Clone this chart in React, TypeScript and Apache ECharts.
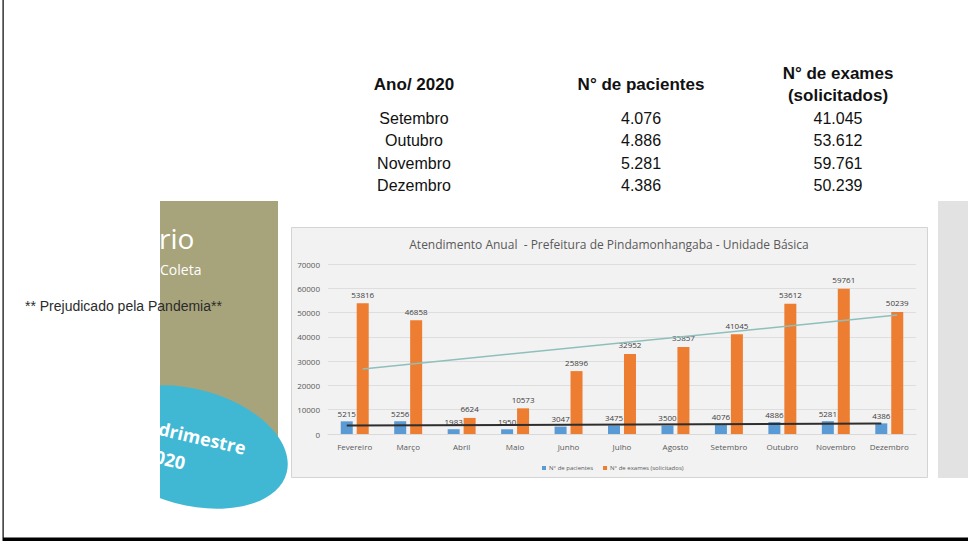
import React, { useEffect, useRef } from "react";
import * as echarts from "echarts";

const months = ["Fevereiro", "Março", "Abril", "Maio", "Junho", "Julho", "Agosto", "Setembro", "Outubro", "Novembro", "Dezembro"];
const patients = [5215, 5256, 1983, 1950, 3047, 3475, 3500, 4076, 4886, 5281, 4386];
const exams = [53816, 46858, 6624, 10573, 25896, 32952, 35857, 41045, 53612, 59761, 50239];
const patientTrend = [3500, 4300];
const examTrend = [26800, 49000];
const tableMonths = ["Setembro", "Outubro", "Novembro", "Dezembro"];
const seriesNames = ["N° de pacientes", "N° de exames (solicitados)"];
const chartTitle = "Atendimento Anual  - Prefeitura de Pindamonhangaba - Unidade Básica";

const fmt = (n: number) => String(n).replace(/\B(?=(\d{3})+(?!\d))/g, ".");

const ARIAL = "'Liberation Sans', Arial, sans-serif";
const SANS = "'Open Sans', sans-serif";

export default function App() {
  const ref = useRef<HTMLDivElement>(null);
  useEffect(() => {
    if (!ref.current) return;
    const chart = echarts.init(ref.current, null, { renderer: "svg" });

    const colX = [414, 641, 838];
    const rowY = [118, 140.5, 163, 185.5];
    const tableTexts: any[] = [];
    tableMonths.forEach((m, i) => {
      const idx = months.indexOf(m);
      const vals = [m, fmt(patients[idx]), fmt(exams[idx])];
      vals.forEach((v, j) => {
        tableTexts.push({
          type: "text", x: colX[j], y: rowY[i],
          style: { text: v, align: "center", verticalAlign: "middle", font: `16px ${ARIAL}`, fill: "#111" },
        });
      });
    });
    const headers = [
      { t: "Ano/ 2020", x: colX[0], y: 84 },
      { t: "N° de pacientes", x: colX[1], y: 84 },
      { t: "N° de exames", x: colX[2], y: 73 },
      { t: "(solicitados)", x: colX[2], y: 95 },
    ];
    headers.forEach((h) => {
      tableTexts.push({
        type: "text", x: h.x, y: h.y,
        style: { text: h.t, align: "center", verticalAlign: "middle", font: `bold 17px ${ARIAL}`, fill: "#111" },
      });
    });

    const rot = -13 * Math.PI / 180;

    chart.setOption({
      animation: false,
      backgroundColor: "#ffffff",
      graphic: [
        // chart box
        { type: "rect", z: -10, shape: { x: 291.5, y: 227.5, width: 636, height: 250 }, style: { fill: "#F2F2F2", stroke: "#D4D4D4", lineWidth: 1 } },
        // right gray panel
        { type: "rect", z: -10, shape: { x: 938, y: 201, width: 30, height: 277 }, style: { fill: "#E2E2E2" } },
        // olive panel
        { type: "rect", z: -10, shape: { x: 160, y: 201, width: 118, height: 255 }, style: { fill: "#A7A37B" } },
        // cyan ellipse
        { type: "ellipse", z: -9, x: 190, y: 447, rotation: -15 * Math.PI / 180, shape: { cx: 0, cy: 0, rx: 100, ry: 58 }, style: { fill: "#41B8D3" } },
        { type: "text", z: -8, x: 159, y: 238, style: { text: "rio", align: "left", verticalAlign: "middle", font: `28px ${SANS}`, fill: "#ffffff" } },
        { type: "text", z: -8, x: 160, y: 269, style: { text: "Coleta", align: "left", verticalAlign: "middle", font: `14px ${SANS}`, fill: "#ffffff" } },
        { type: "text", z: -8, x: 159, y: 428, rotation: rot, style: { text: "drimestre", align: "left", verticalAlign: "middle", font: `bold 18px ${SANS}`, fill: "#ffffff" } },
        { type: "text", z: -8, x: 155, y: 456, rotation: rot, style: { text: "020", align: "left", verticalAlign: "middle", font: `bold 18px ${SANS}`, fill: "#ffffff" } },
        // white cover (clip at x=160)
        { type: "rect", z: -7, shape: { x: 4, y: 195, width: 156, height: 342 }, style: { fill: "#ffffff" } },
        { type: "text", z: -6, x: 25, y: 306, style: { text: "** Prejudicado pela Pandemia**", align: "left", verticalAlign: "middle", font: `14px ${ARIAL}`, fill: "#2b2b2b" } },
        // chart title
        { type: "text", z: -6, x: 609, y: 244, style: { text: chartTitle, align: "center", verticalAlign: "middle", font: `12px ${SANS}`, fill: "#595959" } },
        // page borders
        { type: "rect", z: 10, shape: { x: 2.5, y: 0, width: 1.2, height: 541 }, style: { fill: "#000" } },
        { type: "rect", z: 10, shape: { x: 3, y: 537.5, width: 965, height: 3.5 }, style: { fill: "#000" } },
        ...tableTexts,
      ],
      legend: {
        left: 537, top: 460, itemWidth: 4, itemHeight: 4, itemGap: 10, icon: "rect",
        textStyle: { fontSize: 6, color: "#595959", fontFamily: SANS, padding: [0, 0, 0, -2] },
        data: seriesNames,
      },
      grid: { left: 328, right: 52, top: 264, bottom: 116, containLabel: false },
      xAxis: {
        type: "category", data: months,
        axisLine: { lineStyle: { color: "#D9D9D9" } },
        axisTick: { show: false },
        axisLabel: { fontSize: 8, color: "#595959", fontFamily: SANS, margin: 8, interval: 0 },
      },
      yAxis: {
        type: "value", min: 0, max: 70000, interval: 10000,
        axisLine: { show: false }, axisTick: { show: false },
        axisLabel: { fontSize: 8, color: "#595959", fontFamily: SANS, margin: 8, formatter: (v: number) => String(v) },
        splitLine: { lineStyle: { color: "#DEDEDE" } },
      },
      series: [
        {
          name: seriesNames[0], type: "bar", data: patients, barWidth: 12, barGap: "33%",
          itemStyle: { color: "#5B9BD5" },
          label: { show: true, position: "top", fontSize: 8, color: "#404040", fontFamily: SANS, distance: 4 },
          markLine: {
            silent: true, symbol: ["none", "none"], label: { show: false },
            lineStyle: { color: "#2E2E2E", width: 2, type: "solid" },
            data: [[{ coord: [months[0], patientTrend[0]] }, { coord: [months[months.length - 1], patientTrend[1]] }]],
          },
        },
        {
          name: seriesNames[1], type: "bar", data: exams, barWidth: 12,
          itemStyle: { color: "#ED7D31" },
          label: { show: true, position: "top", fontSize: 8, color: "#404040", fontFamily: SANS, distance: 5 },
          markLine: {
            silent: true, symbol: ["none", "none"], label: { show: false },
            lineStyle: { color: "#8FBFBB", width: 1.5, type: "solid" },
            data: [[{ coord: [months[0], examTrend[0]] }, { coord: [months[months.length - 1], examTrend[1]] }]],
          },
        },
      ],
    });
    return () => chart.dispose();
  }, []);
  return <div ref={ref} style={{ position: "fixed", left: 0, top: 0, width: 968, height: 550 }} />;
}
